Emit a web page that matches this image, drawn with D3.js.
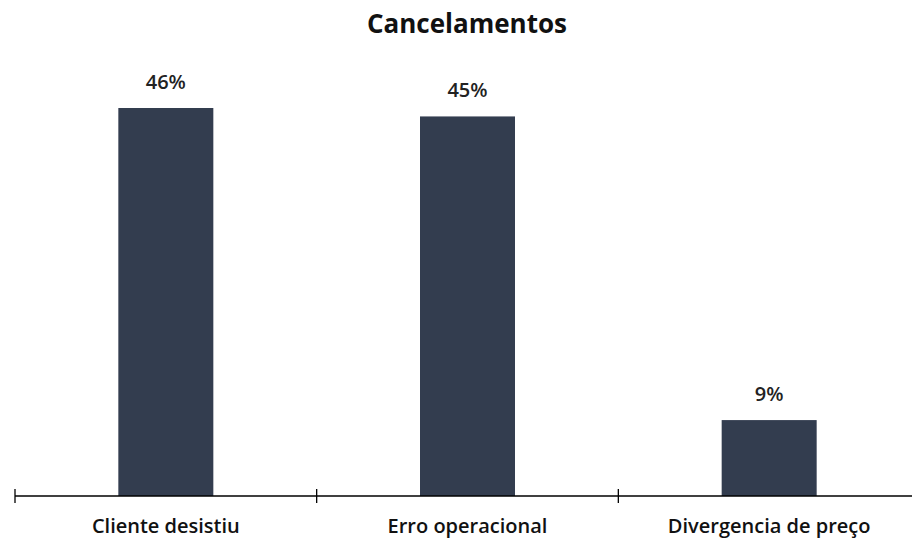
<!DOCTYPE html>
<html>
<head>
<meta charset="utf-8">
<script src="https://cdn.jsdelivr.net/npm/d3@7/dist/d3.min.js"></script>
<style>
  html, body { margin: 0; padding: 0; background: #fff; }
  svg { display: block; font-family: "Open Sans", Lato, sans-serif; }
</style>
</head>
<body>
<svg id="chart" width="912" height="540"></svg>
<script>
// Motivos de cancelamento e participação (%)
const categories = ["Cliente desistiu", "Erro operacional", "Divergencia de preço"];
const values = [46, 45, 9];
const valueLabels = ["46%", "45%", "9%"];
const chartTitle = "Cancelamentos";

const svg = d3.select("#chart");
const width = 912, height = 540;
const margin = { left: 15, right: -8, top: 108, bottom: 44 };
const baseline = height - margin.bottom;

const x = d3.scaleBand()
  .domain(categories)
  .range([margin.left, width - margin.right])
  .paddingInner(0)
  .paddingOuter(0);

const y = d3.scaleLinear()
  .domain([0, d3.max(values)])
  .range([baseline, margin.top]);

const barWidth = 95;
const barColor = "#333d4f";

// Título
svg.append("text")
  .attr("x", 467)
  .attr("y", 33)
  .attr("text-anchor", "middle")
  .attr("font-size", 26)
  .attr("font-weight", "bold")
  .attr("fill", "#111")
  .text(chartTitle);

// Barras
svg.selectAll("rect.bar")
  .data(categories)
  .join("rect")
  .attr("class", "bar")
  .attr("x", d => x(d) + x.bandwidth() / 2 - barWidth / 2)
  .attr("y", (d, i) => y(values[i]))
  .attr("width", barWidth)
  .attr("height", (d, i) => baseline - y(values[i]))
  .attr("fill", barColor);

// Rótulos de valor
svg.selectAll("text.value")
  .data(categories)
  .join("text")
  .attr("class", "value")
  .attr("x", d => x(d) + x.bandwidth() / 2)
  .attr("y", (d, i) => y(values[i]) - 19)
  .attr("text-anchor", "middle")
  .attr("font-size", 20)
  .attr("font-weight", 600)
  .attr("fill", "#222")
  .text((d, i) => valueLabels[i]);

// Eixo das categorias com marcas entre as categorias
const axisG = svg.append("g");
axisG.append("line")
  .attr("x1", x.range()[0])
  .attr("x2", x.range()[1])
  .attr("y1", baseline)
  .attr("y2", baseline)
  .attr("stroke", "#000")
  .attr("stroke-width", 1.3);

const tickXs = categories.map(d => x(d)).concat([x.range()[1]]);
axisG.selectAll("line.tick")
  .data(tickXs)
  .join("line")
  .attr("class", "tick")
  .attr("x1", d => d)
  .attr("x2", d => d)
  .attr("y1", baseline - 7)
  .attr("y2", baseline + 7)
  .attr("stroke", "#000")
  .attr("stroke-width", 1.3);

axisG.selectAll("text.cat")
  .data(categories)
  .join("text")
  .attr("class", "cat")
  .attr("x", d => x(d) + x.bandwidth() / 2)
  .attr("y", baseline + 37)
  .attr("text-anchor", "middle")
  .attr("font-size", 20)
  .attr("font-weight", 600)
  .attr("fill", "#111")
  .text(d => d);
</script>
</body>
</html>
